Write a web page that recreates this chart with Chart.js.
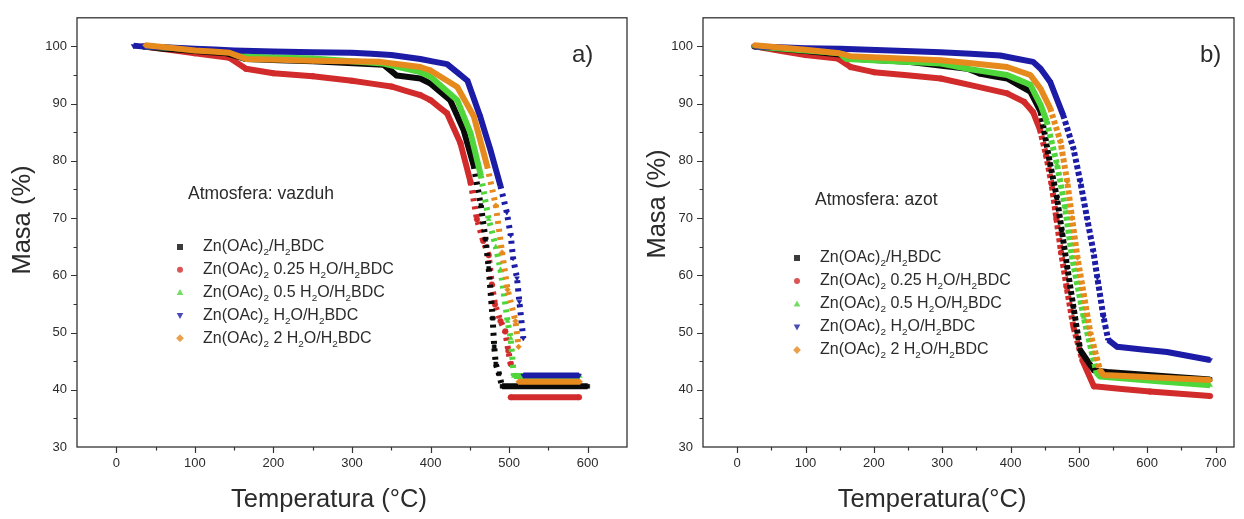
<!DOCTYPE html>
<html><head><meta charset="utf-8">
<script src="https://cdn.jsdelivr.net/npm/chart.js@4.4.1/dist/chart.umd.min.js"></script>
<style>
html,body{margin:0;padding:0;background:#fff;width:1244px;height:519px;overflow:hidden;}
#wa{position:absolute;left:0;top:0;width:640px;height:519px;}
#wb{position:absolute;left:640px;top:0;width:604px;height:519px;}
</style></head><body>
<div id="wa"><canvas id="ca"></canvas></div>
<div id="wb"><canvas id="cb"></canvas></div>
<script>
// ---------- data: panel a) atmosfera vazduh ----------
const aBlackT  = [35, 60, 100, 140, 165, 250, 340, 357, 387, 400, 425, 442, 455, 464, 470, 474, 479, 481, 483, 487, 491, 600];
const aBlackM  = [100, 99.6, 99.2, 98.8, 97.8, 97.4, 96.8, 94.9, 94.4, 93.5, 90.6, 85.4, 79.1, 72.2, 66.3, 61.2, 52.5, 47.5, 44.5, 42.8, 40.6, 40.6];
const aRedT    = [35, 100, 144, 165, 200, 250, 300, 350, 387, 400, 421, 438, 451, 459, 467, 474, 478, 482, 489, 495, 499, 502, 502, 589];
const aRedM    = [100, 98.8, 98.0, 96.1, 95.3, 94.8, 94.0, 93.0, 91.5, 90.6, 88.3, 83.1, 76.2, 69.8, 66.0, 63.5, 58.4, 54.9, 52.0, 50.2, 46.8, 44.5, 38.7, 38.7];
const aGreenT  = [35, 100, 145, 165, 250, 340, 387, 400, 434, 451, 464, 474, 483, 489, 498, 502, 506, 590];
const aGreenM  = [100, 99.5, 99.1, 98.2, 97.9, 97.0, 95.5, 94.7, 90.6, 84.8, 77.4, 69.8, 65.0, 61.0, 52.0, 49.0, 42.4, 42.4];
const aBlueT   = [22, 35, 100, 150, 200, 300, 350, 387, 421, 447, 463, 476, 489, 497, 502, 505, 510, 513, 518, 518, 589];
const aBlueM   = [100.1, 100, 99.6, 99.3, 99.1, 98.9, 98.5, 97.8, 96.9, 94.0, 87.8, 82.0, 75.6, 71.0, 67.0, 63.0, 59.5, 55.4, 49.0, 42.5, 42.5];
const aOrangeT = [37, 100, 144, 165, 250, 336, 387, 400, 434, 455, 472, 483, 491, 498, 508, 512, 512, 590];
const aOrangeM = [100.2, 99.3, 98.9, 97.8, 97.5, 97.3, 96.4, 95.8, 92.9, 87.8, 79.1, 72.2, 64.0, 57.5, 52.0, 47.5, 41.4, 41.4];

// ---------- data: panel b) atmosfera azot ----------
const bBlackT  = [25, 100, 150, 165, 250, 337, 356, 395, 429, 444, 458, 468, 475, 483, 492, 502, 522, 541, 692];
const bBlackM  = [100, 99.2, 98.6, 97.9, 97.3, 96.1, 95.2, 94.4, 92.1, 88.6, 79.4, 73.5, 67.8, 61.4, 54.5, 46.9, 43.4, 43.1, 41.8];
const bRedT    = [25, 100, 147, 166, 200, 298, 395, 420, 433, 443, 452, 460, 467, 474, 482, 492, 505, 522, 604, 692];
const bRedM    = [100, 98.5, 97.9, 96.4, 95.5, 94.4, 91.8, 90.3, 88.5, 85.5, 81.0, 76.0, 70.0, 64.0, 58.0, 51.0, 45.2, 40.6, 39.7, 38.9];
const bGreenT  = [25, 100, 150, 160, 298, 337, 395, 429, 444, 453, 468, 480, 490, 507, 526, 531, 692];
const bGreenM  = [100, 99.3, 98.8, 97.8, 97.0, 96.1, 95.0, 93.3, 89.8, 86.9, 79.4, 71.8, 63.1, 52.7, 42.9, 42.3, 40.8];
const bBlueT   = [25, 100, 151, 298, 385, 433, 444, 458, 477, 492, 502, 512, 521, 527, 536, 543, 556, 629, 692];
const bBlueM   = [100, 99.7, 99.6, 99.0, 98.4, 97.3, 96.1, 93.8, 88.0, 82.2, 76.4, 70.0, 64.3, 59.6, 52.7, 48.7, 47.5, 46.6, 45.2];
const bOrangeT = [25, 100, 150, 165, 298, 395, 429, 444, 458, 473, 483, 490, 498, 517, 531, 536, 692];
const bOrangeM = [100.2, 99.4, 98.8, 98.3, 97.6, 96.4, 95.0, 92.6, 89.2, 83.4, 76.4, 70.0, 63.1, 49.8, 43.4, 42.6, 41.7];

// ---------- labels & ticks ----------
const seriesNames = ['Zn(OAc)_2/H_2BDC', 'Zn(OAc)_2 0.25 H_2O/H_2BDC', 'Zn(OAc)_2 0.5 H_2O/H_2BDC', 'Zn(OAc)_2 H_2O/H_2BDC', 'Zn(OAc)_2 2 H_2O/H_2BDC'];
const yTicks  = [30, 40, 50, 60, 70, 80, 90, 100];
const xTicksA = [0, 100, 200, 300, 400, 500, 600];
const xTicksB = [0, 100, 200, 300, 400, 500, 600, 700];

const FAM = '"Liberation Sans", Arial, sans-serif';
const TXT = '#2b2b2b';
const colors = ['#0a0a0a', '#d22b2b', '#4fd63a', '#1c1ca6', '#e68a1e'];
const styles = ['rect', 'circle', 'triangle', 'triangleDown', 'rectRot'];
const orders = [3, 4, 2, 1, 0];

function pts(T, M) { return T.map((t, i) => ({x: t, y: M[i]})); }

function ratio(ctx) {
  const dx = Math.abs(ctx.p1.x - ctx.p0.x), dy = Math.abs(ctx.p1.y - ctx.p0.y);
  return dy / Math.max(dx, 0.01);
}
function isDrop(ctx) { return Math.abs(ctx.p1.x - ctx.p0.x) < 1 && Math.abs(ctx.p1.y - ctx.p0.y) > 15; }

function dashA(ctx) {
  const ds = ctx.chart.data.datasets[ctx.datasetIndex];
  const v = ds.data[ctx.p1DataIndex].y;
  if (ratio(ctx) > 2 && v < 74) return [3, 5];
  return undefined;
}
function dashB(ctx) {
  if (ratio(ctx) > 2.8) return [4, 2.5];
  return undefined;
}

function makeDatasets(list, dashStyle) {
  return list.map((s, i) => ({
    label: seriesNames[i].replace(/_/g, ''),
    data: pts(s[0], s[1]),
    showLine: true,
    borderColor: colors[i],
    backgroundColor: colors[i],
    borderWidth: 6,
    borderJoinStyle: 'round',
    tension: 0.0001,
    pointStyle: styles[i] === 'triangleDown' ? 'triangle' : styles[i],
    pointRotation: styles[i] === 'triangleDown' ? 180 : 0,
    pointRadius: 2.8,
    pointBorderWidth: 0.5,
    pointBackgroundColor: colors[i],
    pointBorderColor: colors[i],
    order: orders[i],
    segment: {
      borderDash: dashStyle,
      borderColor: ctx => isDrop(ctx) ? 'rgba(0,0,0,0)' : undefined
    }
  }));
}

function drawRich(ctx, str, x, y, size) {
  const parts = str.split(/(_\d)/);
  let cx = x;
  for (const p of parts) {
    if (!p) continue;
    if (p[0] === '_') {
      ctx.font = (size * 0.62) + 'px ' + FAM;
      ctx.fillText(p[1], cx, y + size * 0.35);
      cx += ctx.measureText(p[1]).width;
    } else {
      ctx.font = size + 'px ' + FAM;
      ctx.fillText(p, cx, y);
      cx += ctx.measureText(p).width;
    }
  }
}

function drawMarker(ctx, style, x, y, r, color) {
  ctx.fillStyle = color;
  ctx.beginPath();
  if (style === 'rect') ctx.rect(x - r, y - r, 2 * r, 2 * r);
  else if (style === 'circle') ctx.arc(x, y, r, 0, Math.PI * 2);
  else if (style === 'triangle') { ctx.moveTo(x, y - r * 1.2); ctx.lineTo(x + r * 1.1, y + r * 0.8); ctx.lineTo(x - r * 1.1, y + r * 0.8); ctx.closePath(); }
  else if (style === 'triangleDown') { ctx.moveTo(x, y + r * 1.2); ctx.lineTo(x + r * 1.1, y - r * 0.8); ctx.lineTo(x - r * 1.1, y - r * 0.8); ctx.closePath(); }
  else if (style === 'rectRot') { ctx.moveTo(x, y - r * 1.3); ctx.lineTo(x + r * 1.3, y); ctx.lineTo(x, y + r * 1.3); ctx.lineTo(x - r * 1.3, y); ctx.closePath(); }
  ctx.fill();
}

function deco(cfg) {
  return {
    id: 'deco',
    afterDraw(chart) {
      const ctx = chart.ctx, a = chart.chartArea, xs = chart.scales.x, ys = chart.scales.y;
      ctx.save();
      ctx.strokeStyle = '#333';
      ctx.lineWidth = 1.3;
      ctx.strokeRect(a.left, a.top, a.right - a.left, a.bottom - a.top);
      ctx.beginPath();
      for (let v = 35; v <= 100; v += 5) {
        const y = Math.round(ys.getPixelForValue(v)) + 0.5;
        const len = (v % 10 === 0) ? 6 : 3.5;
        ctx.moveTo(a.left, y); ctx.lineTo(a.left - len, y);
      }
      for (let v = 0; v <= cfg.xMaxTick; v += 50) {
        const x = Math.round(xs.getPixelForValue(v)) + 0.5;
        const len = (v % 100 === 0) ? 6 : 3.5;
        ctx.moveTo(x, a.bottom); ctx.lineTo(x, a.bottom + len);
      }
      ctx.lineWidth = 1.2;
      ctx.stroke();

      ctx.fillStyle = TXT;
      ctx.textBaseline = 'middle';
      ctx.font = '24px ' + FAM;
      ctx.textAlign = 'left';
      ctx.fillText(cfg.letter, cfg.letterX, cfg.letterY);
      ctx.font = '17.5px ' + FAM;
      ctx.fillText(cfg.atmo, cfg.atmoX, cfg.atmoY);
      ctx.textAlign = 'center';
      ctx.font = '25.5px ' + FAM;
      ctx.fillText(cfg.xTitle, cfg.xTitleX, cfg.xTitleY);
      ctx.save();
      ctx.translate(cfg.yTitleX, cfg.yTitleY);
      ctx.rotate(-Math.PI / 2);
      ctx.fillText('Masa (%)', 0, 0);
      ctx.restore();
      ctx.textAlign = 'left';
      for (let i = 0; i < seriesNames.length; i++) {
        const y = cfg.legY + i * cfg.legStep;
        ctx.globalAlpha = 0.8;
        drawMarker(ctx, styles[i], cfg.legMarkX, y, 3, colors[i]);
        ctx.globalAlpha = 1;
        ctx.fillStyle = TXT;
        drawRich(ctx, seriesNames[i], cfg.legTextX, y, 16);
      }
      ctx.restore();
    }
  };
}

function axisOpts(min, max, ticks, fitProp, fitVal, pad) {
  return {
    type: 'linear', min: min, max: max,
    afterFit: s => { s[fitProp] = fitVal; },
    afterBuildTicks: s => { s.ticks = ticks.map(v => ({value: v})); },
    ticks: {autoSkip: false, maxRotation: 0, padding: pad, color: TXT, font: {size: 13, family: FAM}},
    grid: {display: false, drawTicks: false, tickLength: 0},
    border: {display: false}
  };
}

function makeChart(id, datasets, xMin, xMax, xTicks, yWidth, padRight, cfg) {
  return new Chart(document.getElementById(id), {
    type: 'scatter',
    data: {datasets: datasets},
    options: {
      responsive: true, maintainAspectRatio: false, animation: false, devicePixelRatio: 1,
      layout: {padding: {left: 0, right: padRight, top: 14, bottom: 0}},
      plugins: {legend: {display: false}, tooltip: {enabled: false}},
      scales: {
        x: axisOpts(xMin, xMax, xTicks, 'height', 72, 9),
        y: axisOpts(30, 105, yTicks, 'width', yWidth, 10)
      }
    },
    plugins: [deco(cfg)]
  });
}

Chart.defaults.font.family = FAM;

makeChart('ca',
  makeDatasets([[aBlackT, aBlackM], [aRedT, aRedM], [aGreenT, aGreenM], [aBlueT, aBlueM], [aOrangeT, aOrangeM]], dashA),
  -50, 650, xTicksA, 77, 13,
  {letter: 'a)', letterX: 572, letterY: 55, atmo: 'Atmosfera: vazduh', atmoX: 188, atmoY: 194,
   xTitle: 'Temperatura (°C)', xTitleX: 329, xTitleY: 500, yTitleX: 23, yTitleY: 220,
   legY: 247, legStep: 22.8, legMarkX: 180, legTextX: 203, xMaxTick: 600});

makeChart('cb',
  makeDatasets([[bBlackT, bBlackM], [bRedT, bRedM], [bGreenT, bGreenM], [bBlueT, bBlueM], [bOrangeT, bOrangeM]], dashB),
  -50, 727, xTicksB, 63, 10,
  {letter: 'b)', letterX: 560, letterY: 55, atmo: 'Atmosfera: azot', atmoX: 175, atmoY: 200,
   xTitle: 'Temperatura(°C)', xTitleX: 292, xTitleY: 500, yTitleX: 18, yTitleY: 204,
   legY: 258, legStep: 23, legMarkX: 157, legTextX: 180, xMaxTick: 700});
</script>
</body></html>
